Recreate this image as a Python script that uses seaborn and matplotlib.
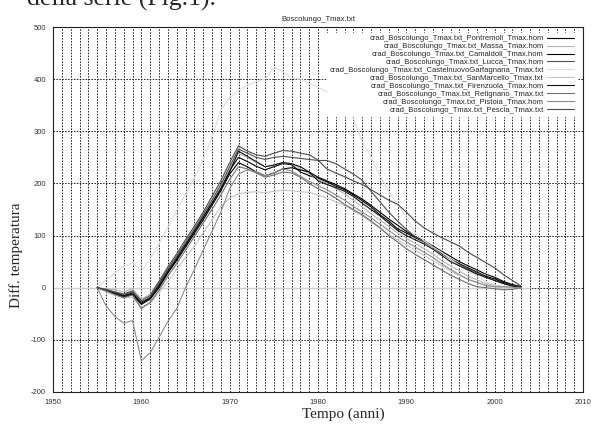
import numpy as np
import pandas as pd
import matplotlib
matplotlib.use('Agg')
import matplotlib.pyplot as plt
import seaborn as sns

# cumulative difference series, one value per year
years = list(range(1955, 2004))

pontremoli = [0, -5, -10, -15, -10, -28, -20, 5, 32, 55, 82, 108, 135, 162, 190, 225, 250, 242, 233, 226,
              232, 238, 236, 222, 215, 210, 203, 195, 188, 178, 167, 155, 140, 128, 113, 105, 96, 88, 78, 66,
              55, 46, 38, 30, 22, 17, 10, 5, 0]
massa = [0, -2, -4, -8, -2, -22, -12, 12, 38, 62, 88, 114, 140, 168, 196, 228, 258, 250, 240, 232,
         236, 240, 238, 228, 218, 208, 200, 190, 180, 168, 155, 142, 130, 118, 105, 95, 85, 75, 65, 52,
         42, 32, 22, 15, 8, 4, 2, 1, 0]
camaldoli = [0, -6, -12, -18, -13, -32, -22, 0, 28, 52, 78, 104, 130, 158, 186, 218, 240, 232, 222, 215,
             220, 228, 230, 226, 222, 212, 205, 198, 190, 180, 170, 158, 145, 132, 120, 108, 98, 90, 80, 70,
             60, 50, 42, 34, 26, 20, 12, 6, 2]
lucca = [0, -4, -9, -14, -8, -28, -18, 8, 35, 60, 86, 112, 140, 168, 198, 232, 266, 258, 250, 246,
         250, 252, 250, 248, 246, 244, 244, 238, 228, 218, 206, 185, 165, 145, 128, 112, 98, 88, 78, 66,
         55, 45, 36, 28, 20, 14, 8, 4, 0]
castelnuovo = [0, 15, 28, 40, 48, 32, 55, 85, 115, 148, 180, 210, 245, 290, 340, 365, 378, 388, 395, 400,
               422, 415, 402, 400, 392, 385, 375, 368, 352, 325, 280, 250, 215, 185, 160, 135, 105, 90, 78, 68,
               55, 42, 32, 22, 12, 5, 2, 0, 0]
sanmarcello = [0, -8, -15, -20, -18, -38, -30, -10, 12, 35, 58, 80, 105, 130, 155, 172, 180, 183, 184, 182,
               185, 187, 186, 184, 183, 178, 172, 165, 158, 148, 138, 126, 115, 102, 92, 82, 72, 62, 52, 42,
               32, 24, 16, 10, 5, 2, 0, 0, 0]
firenzuola = [0, -5, -11, -16, -12, -30, -20, 3, 30, 56, 82, 108, 135, 162, 190, 222, 262, 252, 242, 232,
              235, 240, 238, 232, 222, 205, 198, 192, 185, 175, 162, 150, 138, 124, 110, 100, 92, 84, 74, 62,
              50, 42, 34, 26, 20, 14, 8, 3, 0]
retignano = [0, -6, -13, -19, -14, -40, -28, -5, 22, 46, 72, 98, 124, 150, 178, 208, 232, 228, 220, 212,
             216, 222, 220, 212, 200, 190, 182, 172, 160, 150, 140, 128, 115, 100, 88, 75, 64, 54, 44, 34,
             24, 16, 8, 2, 0, -2, -4, -3, 0]
pistoia = [0, -35, -55, -68, -63, -140, -125, -95, -65, -40, 0, 35, 72, 108, 145, 190, 218, 226, 222, 215,
           220, 228, 224, 214, 204, 196, 188, 178, 168, 156, 145, 134, 122, 110, 98, 88, 78, 68, 58, 46,
           35, 25, 16, 10, 4, 2, 2, 1, 0]
pescia = [0, -3, -8, -12, -6, -25, -15, 12, 40, 65, 92, 118, 145, 175, 205, 240, 272, 262, 255, 252,
          258, 263, 262, 258, 255, 245, 228, 220, 213, 205, 198, 188, 178, 168, 160, 145, 128, 115, 105, 96,
          88, 80, 68, 58, 48, 38, 25, 14, 3]

labels = [
    'crad_Boscolungo_Tmax.txt_Pontremoli_Tmax.hom',
    'crad_Boscolungo_Tmax.txt_Massa_Tmax.hom',
    'crad_Boscolungo_Tmax.txt_Camaldoli_Tmax.hom',
    'crad_Boscolungo_Tmax.txt_Lucca_Tmax.hom',
    'crad_Boscolungo_Tmax.txt_CastelnuovoGarfagnana_Tmax.txt',
    'crad_Boscolungo_Tmax.txt_SanMarcello_Tmax.txt',
    'crad_Boscolungo_Tmax.txt_Firenzuola_Tmax.hom',
    'crad_Boscolungo_Tmax.txt_Retignano_Tmax.txt',
    'crad_Boscolungo_Tmax.txt_Pistoia_Tmax.hom',
    'crad_Boscolungo_Tmax.txt_Pescia_Tmax.txt',
]
series = [pontremoli, massa, camaldoli, lucca, castelnuovo, sanmarcello,
          firenzuola, retignano, pistoia, pescia]
colors = ['#000000', '#b4b4b4', '#000000', '#505050', '#dcdcdc',
          '#c4c4c4', '#111111', '#6e6e6e', '#8c8c8c', '#4a4a4a']

df = pd.concat([pd.DataFrame({'anno': years, 'diff': s, 'serie': lab})
                for s, lab in zip(series, labels)], ignore_index=True)

sns.set_style('white')
plt.rcParams['font.family'] = ['Liberation Sans', 'DejaVu Sans']
plt.rcParams['axes.unicode_minus'] = False

fig = plt.figure(figsize=(5.91, 4.25), dpi=100)
ax = fig.add_axes([53/591, 1-392/425, 530/591, 365/425])

# grid first, so curves sit on top
ax.set_xlim(1950, 2010)
ax.set_ylim(-200, 500)
ax.set_xticks(range(1950, 2011, 10))
ax.set_xticks(range(1950, 2011, 1), minor=True)
ax.set_yticks(range(-200, 501, 100))
gstyle = dict(color='#222222', linestyle=(0, (1.6, 1.4)), linewidth=0.7)
ax.grid(True, which='both', axis='x', **gstyle)
ax.grid(True, which='major', axis='y', **gstyle)
ax.set_axisbelow(True)
ax.hlines(0, 1950, 2004, color='#cfcfcf', linewidth=1.0, zorder=1.5)

sns.lineplot(data=df, x='anno', y='diff', hue='serie', hue_order=labels,
             palette=dict(zip(labels, colors)), linewidth=0.8, ax=ax, zorder=3)

ax.tick_params(which='major', direction='out', length=3, width=0.7, color='#333333',
               labelsize=5.5, labelcolor='#333333', pad=2)
ax.tick_params(which='minor', length=0)
for sp in ax.spines.values():
    sp.set_color('#222222')
    sp.set_linewidth(0.8)

ax.set_title('Boscolungo_Tmax.txt', fontsize=5.5, pad=4)
ax.set_xlabel('Tempo (anni)', family=['Liberation Serif'], fontsize=11)
ax.set_ylabel('Diff. temperatura', family=['Liberation Serif'], fontsize=11)
ax.xaxis.set_label_coords(0.547, -0.042)
ax.yaxis.set_label_coords(-0.056, 0.375)

handles, labs = ax.get_legend_handles_labels()
leg = ax.legend(handles, labs, loc='upper right', bbox_to_anchor=(0.995, 0.995),
                fontsize=5.5, markerfirst=False, handlelength=3.6, handletextpad=0.4,
                labelspacing=0.08, borderpad=0.3, frameon=True, fancybox=False,
                framealpha=1, facecolor='white', edgecolor='white')
for col in leg._legend_handle_box.get_children():
    col.align = 'right'

# clipped line of the page text above the figure
fig.text(27/591, 1-6/425, 'della serie (Fig.1).', family=['Liberation Serif'],
         fontsize=18.5, va='baseline', ha='left')

fig.savefig('out.png', dpi=100)
